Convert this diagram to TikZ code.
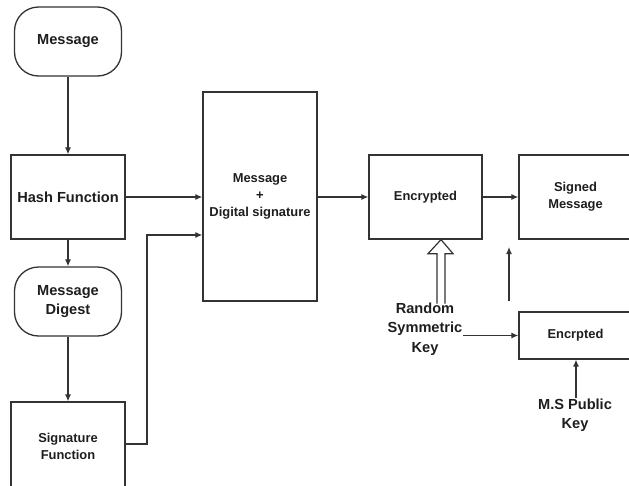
\documentclass[tikz,border=0pt]{standalone}
\usepackage{fontspec}
\setmainfont{Liberation Sans}
\usetikzlibrary{arrows.meta}
\definecolor{ink}{HTML}{333333}
\definecolor{txt}{HTML}{1E1E1E}
\tikzset{
  big/.style={font=\bfseries\fontsize{14.6}{19.5}\selectfont, text=txt, align=center},
  small/.style={font=\bfseries\fontsize{12.9}{17}\selectfont, text=txt, align=center},
  terminal/.style={big, draw=ink, line width=1.3pt, rounded corners=24pt,
    minimum width=107pt, minimum height=69pt, inner sep=0pt},
  procbox/.style={draw=ink, line width=1.3pt, inner sep=0pt},
  label/.style={big, inner sep=0pt},
  conn/.style={draw=ink, line width=1.2pt, -{Latex[length=7pt,width=6pt]}},
}
\begin{document}
\begin{tikzpicture}[x=1pt,y=-1pt]
\clip (0,0) rectangle (629,485);
\fill[white] (0,0) rectangle (629,485);

% left column: hashing and signing
\node[terminal] (msg) at (68,41.5) {Message};
\node[procbox, big, minimum width=114pt, minimum height=84pt] (hash) at (68,197) {Hash Function};
\node[terminal] (digest) at (68,301.5) {Message\\Digest};
\node[procbox, small, minimum width=114pt, minimum height=88pt] (sig) at (68,446) {Signature\\Function};

% combined message and signature
\node[procbox, small, minimum width=114pt, minimum height=209pt] (mds) at (260,196.5) {Message\\+\\Digital signature};

% encryption stage
\node[procbox, small, minimum width=113pt, minimum height=84pt] (enc) at (425.5,197) {Encrypted};
\node[procbox, small, minimum width=113pt, minimum height=84pt] (signed) at (575.5,197) {Signed\\Message};
\node[procbox, small, minimum width=113pt, minimum height=47pt] (enc2) at (575.5,335.5) {Encrpted};

% key labels
\node[label] (key) at (425,329) {Random\\Symmetric\\Key};
\node[label] (mspk) at (575,415) {M.S Public\\Key};

% connectors
\draw[conn] (msg.south) -- (hash.north);
\draw[conn] (hash.south) -- (digest.north);
\draw[conn] (digest.south) -- (sig.north);
\draw[conn] (hash.east) -- (mds.west |- hash.east);
\draw[conn] ([yshift=2pt]sig.east) -| (147,235) -- (mds.west |- 0,235);
\draw[conn] (mds.east |- enc.west) -- (enc.west);
\draw[conn] (enc.east) -- (signed.west);
\draw[conn] (key.east |- enc2.west) -- (enc2.west);
\draw[conn] ([xshift=1pt]mspk.north) -- ([xshift=1pt]mspk.north |- enc2.south);

% hollow key arrow into the encryption box
\coordinate (tip) at ([xshift=15.5pt]enc.south);
\draw[ink, line width=1.2pt, fill=white]
  (tip) -- ++(12,14) -- ++(-8,0) -- ++(0,50)
  (tip) -- ++(-13,14) -- ++(9,0) -- ++(0,50);

% free upward arrow
\coordinate (upfrom) at (509,301);
\coordinate (upto) at (509,247);
\draw[conn] (upfrom) -- (upto);
\end{tikzpicture}
\end{document}
